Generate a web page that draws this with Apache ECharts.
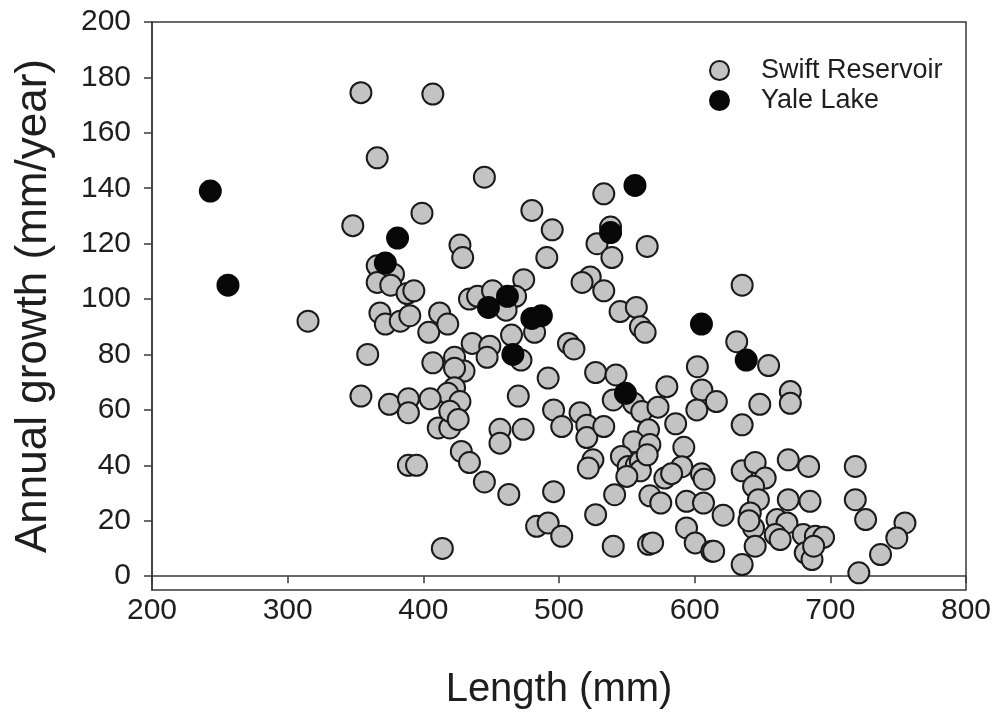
<!DOCTYPE html>
<html><head><meta charset="utf-8">
<script src="https://cdn.jsdelivr.net/npm/echarts@6/dist/echarts.min.js"></script>
<style>html,body{margin:0;padding:0;background:#fff}#c{width:997px;height:717px}</style>
</head><body><div id="c"></div>
<script>
const xTicks = [200, 300, 400, 500, 600, 700, 800];
const yTicks = [0, 20, 40, 60, 80, 100, 120, 140, 160, 180, 200];

const swiftReservoir = [
  [354,174.5],[407,174],[366,151],[399,131],[348,126.5],[445,144],[533,138],[480,132],[495,125],[538,126],
  [528,120],[539,115],[565,119],[491,115],[427,119.5],[429,115],[474,107],[523,108],[517,106],[533,103],[635,105],
  [366,112],[378,109],[366,106],[376,105],[388,102],[393,103],[368,95],[372,91],[383,92],[390,94],
  [404,88],[412,95],[418,91],[434,100],[440,101],[451,103],[468,101],[436,84],[449,83],[447,79],
  [359,80],[407,77],[423,79],[430,74],[423,75],[423,68],[418,66],[427,63],[354,65],[375,62],
  [389,64],[405,64],[389,59],[315,92],[411,53.5],[419.5,53.5],[419.5,59.5],[425.7,56.5],
  [389,40],[395,40],[428,45],[434,41],[445,34],[463,29.5],[414,10],
  [461,96],[465,87],[482,88],[472,78],[507,84],[511,82],[492,71.5],[470,65],[496,60],[502,54],
  [515.5,59],[520.5,54.5],[520.5,50],[533,54],[456.5,53],[456.5,48],[473.6,53],[496,30.5],[525,42],[521.6,39],
  [527,73.5],[542,72.6],[540,63.6],[545,95.5],[557,97],[560,90],[563.5,88],
  [555,62.4],[561,59.4],[573,61],[586,55],[579.5,68.4],[602,75.6],[605.3,67.2],[601.6,60],[616,63],
  [566,52.8],[555,48.5],[567,47.5],[546,43.2],[551,39.6],[557,40],[560,41.4],[560,38],[565,43.8],[550,36],
  [541,29.4],[578,35.4],[592,46.5],[590.5,39.5],[583,37],[605,37],[607,35],[567,29],[575,26.4],[594,27],
  [606.5,26.4],[527,22.2],[483.5,18],[492,19.2],[502,14.4],[540,10.8],[566,11.5],[569,12],[594,17.4],[600.4,12],
  [612.7,9],[621,22],
  [631,84.6],[654.5,76],[670.5,66.6],[670.5,62.4],[648,62],[635,54.6],[635,38],[644.6,41],[652,35.4],[643.4,32.4],
  [669,42],[684,39.6],[718.4,39.6],[718.4,27.6],[726,20.4],[755,19.2],[749,13.8],[737,7.8],[721,1.2],[614,9],
  [635,4.2],[647,27.6],[641,22.8],[643.4,17.4],[644.6,10.8],[640,20],[660.7,20.4],[668,19.2],[659.4,15],[663,13.2],
  [669,27.6],[685,27],[680,15],[689,14.4],[695,14],[681.5,8.4],[686.5,6],[687.7,10.8]
];

const yaleLake = [
  [243,139],[256,105],[381,122],[372,113],[556,141],[538,124],[462,101],[448,97],
  [480,93],[487,94],[466,80],[605,91],[549,66],[638,78]
];

const FONT = "'Liberation Sans', Arial, sans-serif";

const chart = echarts.init(document.getElementById('c'), null, {renderer: 'canvas'});
chart.setOption({
  backgroundColor: '#ffffff',
  animation: false,
  grid: {left: 152, right: 31, top: 22, bottom: 127, show: true, borderColor: '#3a3a3a', borderWidth: 1.5, backgroundColor: 'transparent'},
  legend: {
    orient: 'vertical', left: 704, top: 52, itemWidth: 19, itemHeight: 19, itemGap: 3,
    icon: 'circle',
    textStyle: {fontFamily: FONT, fontSize: 27, color: '#1e1e1e', padding: [0, 0, 0, 27]},
    data: ['Swift Reservoir', 'Yale Lake']
  },
  xAxis: {
    type: 'value', min: 200, max: 800, interval: 100,
    name: 'Length (mm)', nameLocation: 'middle', nameGap: 80,
    nameTextStyle: {fontFamily: FONT, fontSize: 40, color: '#1e1e1e'},
    axisLine: {show: true, lineStyle: {color: '#3a3a3a', width: 1.5}},
    axisTick: {show: true, length: 7, lineStyle: {color: '#3a3a3a', width: 1.5}},
    axisLabel: {fontFamily: FONT, fontSize: 30, color: '#1e1e1e', margin: 6,
      customValues: xTicks},
    splitLine: {show: false}
  },
  yAxis: {
    type: 'value', min: -5, max: 200,
    name: 'Annual growth (mm/year)', nameLocation: 'middle', nameGap: 96,
    nameTextStyle: {fontFamily: FONT, fontSize: 44, color: '#1e1e1e'},
    axisLine: {show: true, lineStyle: {color: '#3a3a3a', width: 1.5}},
    axisTick: {show: true, length: 8, lineStyle: {color: '#3a3a3a', width: 1.5}, customValues: yTicks},
    axisLabel: {fontFamily: FONT, fontSize: 30, color: '#1e1e1e', margin: 21, customValues: yTicks},
    splitLine: {show: false}
  },
  series: [
    {
      name: 'Swift Reservoir', type: 'scatter', data: swiftReservoir, symbol: 'circle', symbolSize: 21,
      itemStyle: {color: '#c3c3c3', borderColor: '#1a1a1a', borderWidth: 2, opacity: 1}
    },
    {
      name: 'Yale Lake', type: 'scatter', data: yaleLake, symbol: 'circle', symbolSize: 21,
      itemStyle: {color: '#080808', borderColor: '#080808', borderWidth: 2, opacity: 1}
    }
  ]
});
</script>
</body></html>
